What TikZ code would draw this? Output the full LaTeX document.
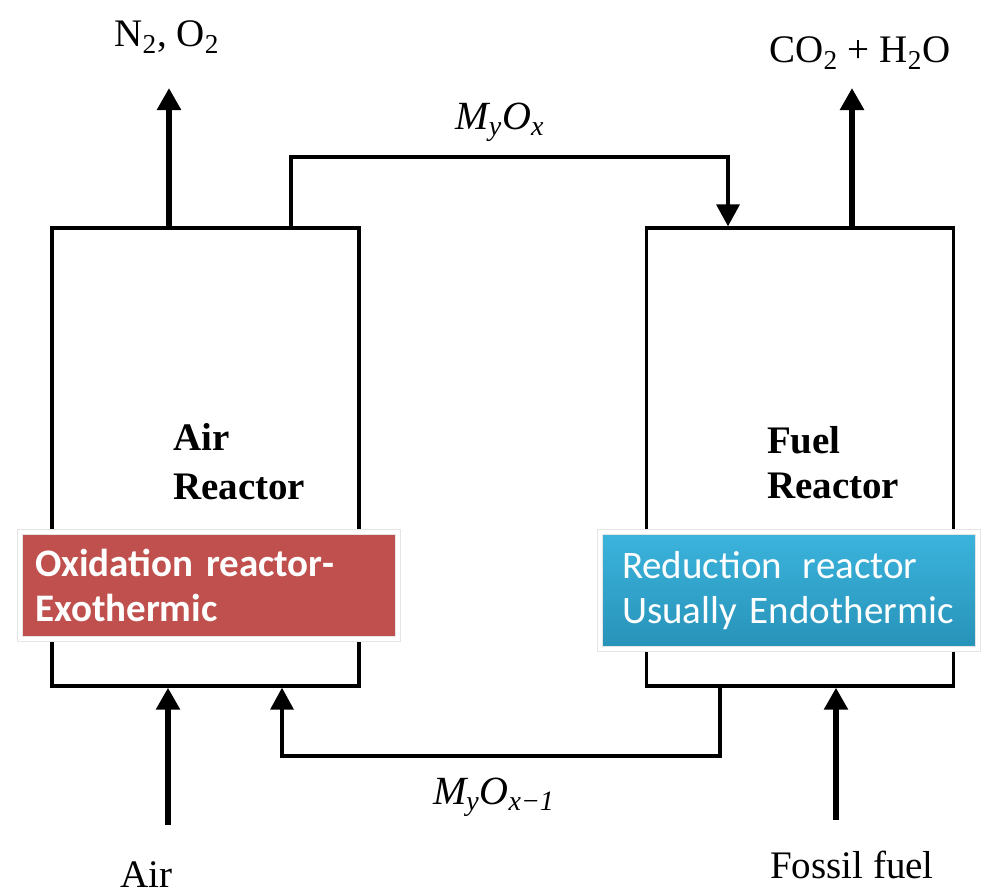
\documentclass[tikz,border=0pt]{standalone}
\usepackage{fontspec}
\setmainfont{Liberation Serif}
\newfontfamily\tagfont{Carlito}
\usetikzlibrary{arrows.meta}
\definecolor{oxred}{HTML}{C0504D}
\definecolor{aquatop}{HTML}{3BB4DD}
\definecolor{aquabot}{HTML}{2892B8}

\begin{document}
\begin{tikzpicture}[x=0.5pt,y=-0.5pt,
  reactor/.style={draw,line width=1.7pt,minimum width=153.5pt,minimum height=229pt,inner sep=0pt},
  feed/.style={-{Triangle[width=11.5pt,length=11pt]},line width=3.2pt},
  recycle/.style={-{Triangle[width=11.5pt,length=11pt]},line width=1.8pt},
  tagbox/.style={draw=black!10,double=white,double distance=2.2pt,line width=0.5pt,
    minimum width=189pt,align=left,text=white,font=\tagfont\fontsize{19.5}{22.5}\selectfont},
  rlabel/.style={font=\fontsize{19.5}{23}\selectfont}]
 \useasboundingbox (0,0) rectangle (985,894);
 \node[reactor] (air) at (205.5,457) {};
 \node[reactor] (fuel) at (800,457) {};
 \node[rlabel,font=\bfseries\fontsize{19.5}{24.5}\selectfont,align=left,anchor=west] (airname) at (166,462) {Air\\Reactor};
 \node[rlabel,font=\bfseries\fontsize{19.5}{22.5}\selectfont,align=left,anchor=west] (fuelname) at (760,463) {Fuel\\Reactor};
 \node[tagbox,fill=oxred,minimum height=53.5pt,inner xsep=7.5pt,text width=174pt]
   (oxid) at (209,585.5) {\bfseries Oxidation reactor-\\\bfseries Exothermic};
 \node[tagbox,top color=aquatop,bottom color=aquabot,minimum height=58.5pt,inner xsep=11pt,text width=167pt]
   (redu) at (789,590.5) {Reduction\hspace{0.2em} reactor\\Usually Endothermic};
 \node[rlabel] (n2out) at (167,37) {N\textsubscript{2}, O\textsubscript{2}};
 \node[rlabel] (co2out) at (860,53) {CO\textsubscript{2} + H\textsubscript{2}O};
 \node[rlabel] (airin) at (146,875) {Air};
 \node[rlabel] (fuelin) at (852,865) {Fossil fuel};
 \node[rlabel,font=\itshape\fontsize{20}{23}\selectfont] (oxlab) at (500,122) {M\textsubscript{y}O\textsubscript{x}};
 \node[rlabel,font=\itshape\fontsize{20}{23}\selectfont] (redlab) at (494,797) {M\textsubscript{y}O\textsubscript{x−1}};
 \coordinate (n2tip) at (169,88);
 \coordinate (co2tip) at (852,88);
 \coordinate (upL) at (291,157);
 \coordinate (upR) at (728,157);
 \coordinate (dnR) at (720,756);
 \coordinate (dnL) at (282,756);
 \coordinate (airtail) at (168,825);
 \coordinate (fueltail) at (836,820);
 \draw[feed] (air.north -| n2tip) -- (n2tip);
 \draw[feed] (fuel.north -| co2tip) -- (co2tip);
 \draw[feed] (airtail) -- (air.south -| airtail);
 \draw[feed] (fueltail) -- (fuel.south -| fueltail);
 \draw[recycle] (air.north -| upL) -- (upL) -- (upR) -- (fuel.north -| upR);
 \draw[recycle] (fuel.south -| dnR) -- (dnR) -- (dnL) -- (air.south -| dnL);
\end{tikzpicture}
\end{document}
